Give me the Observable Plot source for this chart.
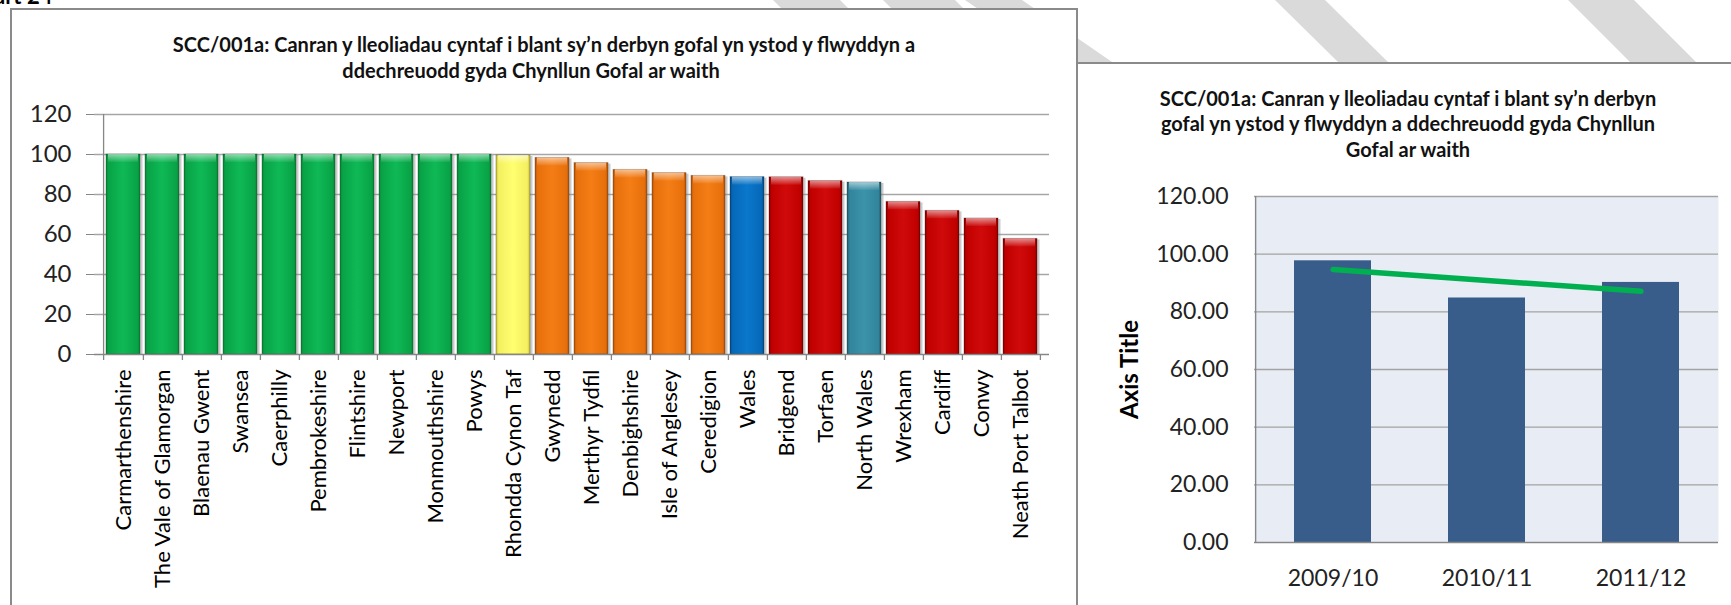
<!DOCTYPE html>
<html>
<head>
<meta charset="utf-8">
<script src="https://cdn.jsdelivr.net/npm/d3@7"></script>
<script src="https://cdn.jsdelivr.net/npm/@observablehq/plot@0.6"></script>
<style>
  html, body { margin: 0; padding: 0; background: #fff; }
  #page { position: relative; width: 1731px; height: 605px; overflow: hidden; background: #fff; font-family: Lato, "Open Sans", sans-serif; }
  .wm { position: absolute; left: 0; top: 0; width: 1731px; height: 605px; background: #dadada; z-index: 0; }
  #frameR { position: absolute; left: 1076px; top: 62px; width: 720px; height: 640px; border: 2px solid #8a8a8a; background: #fff; z-index: 1; }
  #frameL { position: absolute; left: 10px; top: 8px; width: 1064px; height: 660px; border: 2px solid #8a8a8a; background: #fff; z-index: 2; }
  .title { position: absolute; font-weight: bold; font-size: 20px; color: #111; white-space: nowrap; transform: translate(-50%, -50%); z-index: 4; }
  .chart { position: absolute; top: 0; z-index: 3; }
  #pagehead { position: absolute; left: -6px; top: -18px; font-weight: bold; font-size: 22px; color: #000; z-index: 0; }
</style>
</head>
<body>
<div id="page">
  <div id="pagehead">art 24</div>
  <div class="wm" style="clip-path: polygon(773px 0, 840px 0, 938px 98px, 871px 98px);"></div>
  <div class="wm" style="clip-path: polygon(883px 0, 955px 0, 1053px 98px, 981px 98px);"></div>
  <div class="wm" style="clip-path: polygon(965px 0, 1022px 0, 1115px 64px, 1058px 64px);"></div>
  <div class="wm" style="clip-path: polygon(1275px 0, 1325px 0, 1390px 64px, 1340px 64px);"></div>
  <div class="wm" style="clip-path: polygon(1568px 0, 1634px 0, 1734px 100px, 1668px 100px);"></div>
  <div id="frameR"></div>
  <div id="frameL"></div>
  <div class="title" style="left:544px; top:44px;">SCC/001a: Canran y lleoliadau cyntaf i blant sy’n derbyn gofal yn ystod y flwyddyn a</div>
  <div class="title" style="left:531px; top:70px;">ddechreuodd gyda Chynllun Gofal ar waith</div>
  <div class="title" style="left:1408px; top:98px;">SCC/001a: Canran y lleoliadau cyntaf i blant sy’n derbyn</div>
  <div class="title" style="left:1408px; top:123px;">gofal yn ystod y flwyddyn a ddechreuodd gyda Chynllun</div>
  <div class="title" style="left:1408px; top:149px;">Gofal ar waith</div>
</div>
<script>
// ---------- Data: left chart ----------
const categories = [
  "Carmarthenshire", "The Vale of Glamorgan", "Blaenau Gwent", "Swansea", "Caerphilly",
  "Pembrokeshire", "Flintshire", "Newport", "Monmouthshire", "Powys",
  "Rhondda Cynon Taf", "Gwynedd", "Merthyr Tydfil", "Denbighshire", "Isle of Anglesey",
  "Ceredigion", "Wales", "Bridgend", "Torfaen", "North Wales",
  "Wrexham", "Cardiff", "Conwy", "Neath Port Talbot"
];
const values = [
  100, 100, 100, 100, 100,
  100, 100, 100, 100, 100,
  99.5, 98.3, 95.7, 92.3, 90.7,
  89.3, 88.7, 88.6, 86.7, 86.0,
  76.3, 71.8, 68.0, 57.8
];
const groups = [
  "green", "green", "green", "green", "green",
  "green", "green", "green", "green", "green",
  "yellow", "orange", "orange", "orange", "orange",
  "orange", "wales", "red", "red", "northwales",
  "red", "red", "red", "red"
];
const leftTicks = [0, 20, 40, 60, 80, 100, 120];

// ---------- Data: right chart ----------
const years = ["2009/10", "2010/11", "2011/12"];
const yearValues = [97.7, 84.8, 90.2];
const rightTicks = [0, 20, 40, 60, 80, 100, 120];

// ---------- Styles ----------
const groupKeys = ["green", "yellow", "orange", "wales", "red", "northwales"];
const groupColors = {
  green:      ["#0fb956", "#08a346", "#0a8a3a"],
  yellow:     ["#ffff70", "#f4f060", "#c8c040"],
  orange:     ["#f47d16", "#e8700c", "#b85508"],
  wales:      ["#0a78cc", "#0668b8", "#04508e"],
  red:        ["#d00a0a", "#c00000", "#8c0000"],
  northwales: ["#3b93aa", "#31859c", "#226072"]
};
const SVGNS = "http://www.w3.org/2000/svg";
function addDefs(svg) {
  const defs = document.createElementNS(SVGNS, "defs");
  for (const g of groupKeys) {
    const [base, mid, dark] = groupColors[g];
    const lg = document.createElementNS(SVGNS, "linearGradient");
    lg.setAttribute("id", "lg-" + g);
    lg.setAttribute("x1", "0"); lg.setAttribute("x2", "1"); lg.setAttribute("y1", "0"); lg.setAttribute("y2", "0");
    [[0, dark], [0.08, mid], [0.5, base], [0.92, mid], [1, dark]].forEach(([o, c]) => {
      const s = document.createElementNS(SVGNS, "stop");
      s.setAttribute("offset", o); s.setAttribute("stop-color", c);
      lg.appendChild(s);
    });
    defs.appendChild(lg);
  }
  const bev = document.createElementNS(SVGNS, "linearGradient");
  bev.setAttribute("id", "bevel");
  bev.setAttribute("x1", "0"); bev.setAttribute("x2", "0"); bev.setAttribute("y1", "0"); bev.setAttribute("y2", "1");
  [[0, "rgba(255,255,255,0.55)"], [1, "rgba(255,255,255,0.05)"]].forEach(([o, c]) => {
    const s = document.createElementNS(SVGNS, "stop");
    s.setAttribute("offset", o); s.setAttribute("stop-color", c);
    bev.appendChild(s);
  });
  defs.appendChild(bev);
  svg.insertBefore(defs, svg.firstChild);
}

// ---------- Left chart ----------
const L = {width: 1078, height: 605, ml: 94, mr: 29, mt: 114, mb: 251};
const pIn = 0.13, pOut = 0.06;
const stepL = (L.width - L.ml - L.mr) / (categories.length - pIn + 2 * pOut);
const data = categories.map((c, i) => ({name: c, value: values[i], group: groups[i]}));

const left = Plot.plot({
  width: L.width, height: L.height,
  marginLeft: L.ml, marginRight: L.mr, marginTop: L.mt, marginBottom: L.mb,
  style: {fontFamily: "Lato", color: "#000", background: "transparent", overflow: "visible"},
  x: {domain: categories, paddingInner: pIn, paddingOuter: pOut, label: null},
  y: {domain: [0, 120], label: null},
  color: {domain: groupKeys, range: groupKeys.map(g => `url(#lg-${g})`)},
  marks: [
    Plot.ruleY(leftTicks.filter(t => t > 0), {stroke: "#a6a6a6", strokeWidth: 1.3}),
    Plot.barY(data, {x: "name", y: "value", fill: "#8c8c8c", fillOpacity: 0.45, dx: 2.5, dy: 1}),
    Plot.barY(data, {x: "name", y: "value", fill: "group", stroke: "rgba(0,0,0,0.28)", strokeWidth: 1}),
    Plot.barY(data, {x: "name", y1: d => d.value - 4, y2: "value", fill: "url(#bevel)", insetLeft: 2, insetRight: 2}),
    Plot.ruleY([0], {stroke: "#868686", strokeWidth: 1.3}),
    Plot.ruleX([categories[0]], {x: d => d, dx: -stepL / 2, y1: -3, y2: 120, stroke: "#868686", strokeWidth: 1.3}),
    Plot.ruleX(categories, {x: d => d, dx: stepL / 2, y1: -3, y2: 0, stroke: "#868686", strokeWidth: 1.3}),
    Plot.axisY(leftTicks, {tickSize: 8, tickPadding: 15, fontSize: 24, stroke: "#868686", label: null, fill: "#222"}),
    Plot.axisX({tickSize: 0, tickPadding: 15, tickRotate: -90, fontSize: 22, label: null, fill: "#000"})
  ]
});
addDefs(left);
left.classList.add("chart");
left.style.left = "0px";
document.getElementById("page").appendChild(left);

// ---------- Right chart ----------
const R = {left: 1078, width: 653, height: 605, ml: 176, mr: 13, mt: 196, mb: 63};
const rIn = 0.5, rOut = 0.25;
const stepR = (R.width - R.ml - R.mr) / (years.length - rIn + 2 * rOut);
const yearData = years.map((y, i) => ({year: y, value: yearValues[i]}));
// linear least-squares trendline through the bar values
const xs = years.map((_, i) => i + 1);
const mx = d3.mean(xs), my = d3.mean(yearValues);
const slope = d3.sum(xs.map((x, i) => (x - mx) * (yearValues[i] - my))) / d3.sum(xs.map(x => (x - mx) ** 2));
const trend = years.map((y, i) => ({year: y, value: my + slope * (xs[i] - mx)}));

const right = Plot.plot({
  width: R.width, height: R.height,
  marginLeft: R.ml, marginRight: R.mr, marginTop: R.mt, marginBottom: R.mb,
  style: {fontFamily: "Lato", color: "#000", background: "transparent", overflow: "visible"},
  x: {domain: years, paddingInner: rIn, paddingOuter: rOut, label: null},
  y: {domain: [0, 120], label: null},
  marks: [
    Plot.frame({fill: "#e8ecf4", stroke: null}),
    Plot.ruleY(rightTicks.filter(t => t > 0), {stroke: "#a3a3a3", strokeWidth: 1.3}),
    Plot.barY(yearData, {x: "year", y: "value", fill: "#385d8a"}),
    Plot.line(trend, {x: "year", y: "value", stroke: "#00b050", strokeWidth: 5.5, strokeLinecap: "round"}),
    Plot.ruleY([0], {stroke: "#868686", strokeWidth: 1.3}),
    Plot.ruleX([years[0]], {x: d => d, dx: -stepR / 2, y1: 0, y2: 120, stroke: "#868686", strokeWidth: 1.3}),
    Plot.axisY(rightTicks, {tickSize: 0, tickPadding: 26, tickFormat: d3.format(".2f"), fontSize: 23, label: null, fill: "#222"}),
    Plot.axisY([], {tickSize: 0, label: "Axis Title", labelArrow: "none", labelAnchor: "center", labelOffset: 134, fontSize: 24, fontWeight: "bold", fill: "#000"}),
    Plot.axisX({tickSize: 0, tickPadding: 27, fontSize: 23, label: null, fill: "#222"})
  ]
});
right.classList.add("chart");
right.style.left = R.left + "px";
document.getElementById("page").appendChild(right);
</script>
</body>
</html>
